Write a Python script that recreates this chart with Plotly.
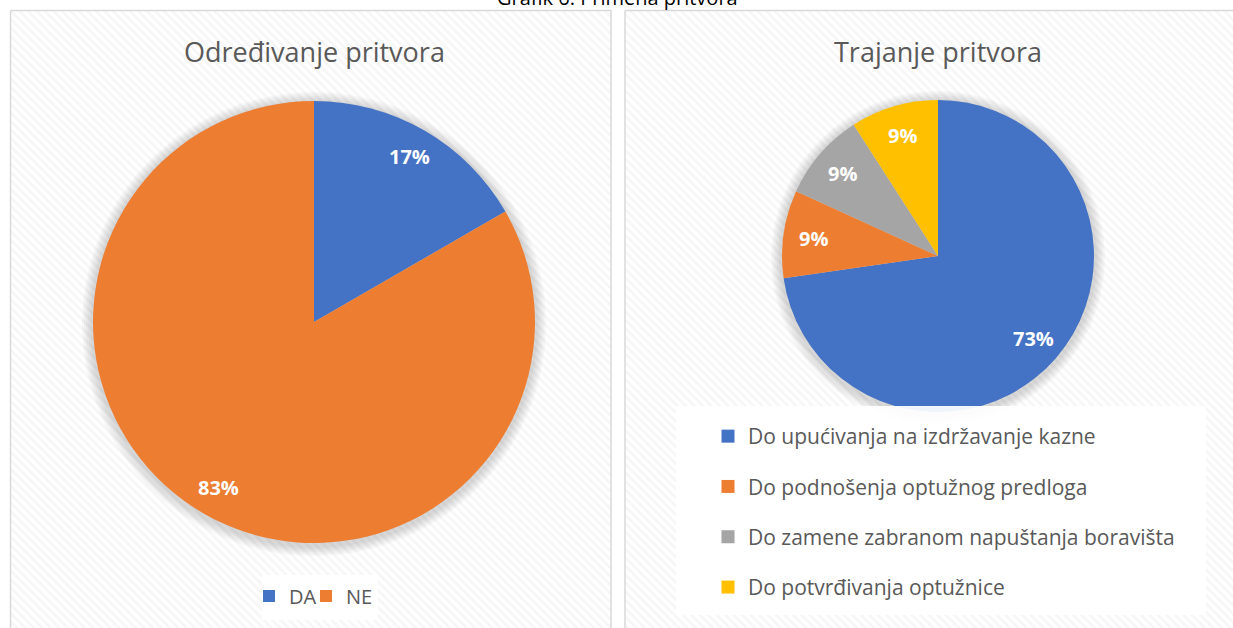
import numpy as np
import plotly.graph_objects as go

# ---- data ----
main_title = "Grafik 6: Primena pritvora"
left_title = "Određivanje pritvora"
left_labels = ["DA", "NE"]
left_values = [2, 10]
right_title = "Trajanje pritvora"
right_labels = [
    "Do upućivanja na izdržavanje kazne",
    "Do podnošenja optužnog predloga",
    "Do zamene zabranom napuštanja boravišta",
    "Do potvrđivanja optužnice",
]
right_values = [8, 1, 1, 1]
colors = ["#4472C4", "#ED7D31", "#A5A5A5", "#FFC000"]

W, H = 1233, 628
FONT = "Open Sans"
TXT = "#595959"

# pie geometry (pixels)
L_CX, L_CY, L_R = 314, 322, 221
R_CX, R_CY, R_R = 938, 256, 156


def dom(cx, cy, r):
    return dict(x=[(cx - r) / W, (cx + r) / W],
                y=[1 - (cy + r) / H, 1 - (cy - r) / H])


def label_annotations(values, cx, cy, r):
    """Percent labels placed near the outer edge at each slice's mid-angle."""
    vals = np.asarray(values, dtype=float)
    tot = vals.sum()
    ends = np.cumsum(vals) / tot * 360.0
    starts = ends - vals / tot * 360.0
    out = []
    rl = r - 30
    for v, a0, a1 in zip(vals, starts, ends):
        mid = np.radians((a0 + a1) / 2)
        out.append(dict(
            text=f"{round(v / tot * 100):.0f}%", xref="x", yref="y",
            x=cx + rl * np.sin(mid), y=cy - rl * np.cos(mid),
            showarrow=False, xanchor="center", yanchor="middle",
            font=dict(family=FONT, size=20, color="white", weight="bold")))
    return out


fig = go.Figure()

# hatched panel backgrounds
for (x0, x1) in [(10.5, 611), (625, 1245)]:
    fig.add_trace(go.Scatter(
        x=[x0, x1, x1, x0, x0], y=[10.5, 10.5, 645, 645, 10.5],
        mode="lines", fill="toself", fillcolor="white",
        fillpattern=dict(shape="\\", fgcolor="#eeeeee", bgcolor="white",
                         size=6, solidity=0.45),
        line=dict(color="#d9d9d9", width=1.5),
        hoverinfo="skip", showlegend=False))

# soft shadows behind pies
th = np.linspace(0, 2 * np.pi, 181)
for cx, cy, r in [(L_CX, L_CY, L_R), (R_CX, R_CY, R_R)]:
    for k in (11, 9, 7, 5, 3):
        fig.add_trace(go.Scatter(
            x=cx + (r + k) * np.cos(th), y=cy + 2 + (r + k) * np.sin(th),
            mode="lines", fill="toself", fillcolor="rgba(0,0,0,0.03)",
            line=dict(width=0), hoverinfo="skip", showlegend=False))

fig.add_trace(go.Pie(
    labels=left_labels, values=left_values, sort=False, direction="clockwise",
    rotation=0, domain=dom(L_CX, L_CY, L_R),
    marker=dict(colors=colors[:2], line=dict(width=0)),
    textinfo="none", showlegend=False))

fig.add_trace(go.Pie(
    labels=right_labels, values=right_values, sort=False, direction="clockwise",
    rotation=0, domain=dom(R_CX, R_CY, R_R),
    marker=dict(colors=colors, line=dict(width=0)),
    textinfo="none", showlegend=False))

# legend entries for the left pie: one small legend per entry (tight spacing)
left_leg_ids = ["legend3", "legend4"]
for i, (lab, c) in enumerate(zip(left_labels, colors)):
    fig.add_trace(go.Scatter(
        x=[None], y=[None], mode="markers", name=lab,
        marker=dict(symbol="square", size=12, color=c),
        legend=left_leg_ids[i], showlegend=True))

# legend entries for right pie (spaced like the original)
for i, (lab, c) in enumerate(zip(right_labels, colors)):
    fig.add_trace(go.Scatter(
        x=[None], y=[None], mode="markers", name=lab,
        marker=dict(symbol="square", size=13, color=c),
        legend="legend2", legendgroup=f"g{i}", showlegend=True))

annotations = [
    dict(text=main_title, x=617 / W, y=1 + 2 / H, xref="paper", yref="paper",
         xanchor="center", yanchor="middle", showarrow=False,
         font=dict(family=FONT, size=20, color="black")),
    dict(text=left_title, x=L_CX / W, y=1 - 51 / H, xref="paper", yref="paper",
         xanchor="center", yanchor="middle", showarrow=False,
         font=dict(family=FONT, size=27, color=TXT)),
    dict(text=right_title, x=R_CX / W, y=1 - 51 / H, xref="paper", yref="paper",
         xanchor="center", yanchor="middle", showarrow=False,
         font=dict(family=FONT, size=27, color=TXT)),
]
annotations += label_annotations(left_values, L_CX, L_CY, L_R)
annotations += label_annotations(right_values, R_CX, R_CY, R_R)

small_leg = dict(orientation="v", xanchor="left", yanchor="middle",
                 y=1 - 596 / H, bgcolor="rgba(0,0,0,0)",
                 font=dict(family=FONT, size=20, color=TXT))

fig.update_layout(
    width=W, height=H, margin=dict(l=0, r=0, t=0, b=0),
    paper_bgcolor="white", plot_bgcolor="rgba(0,0,0,0)",
    xaxis=dict(range=[0, W], visible=False, fixedrange=True),
    yaxis=dict(range=[H, 0], visible=False, fixedrange=True),
    font=dict(family=FONT, color=TXT),
    showlegend=True,
    legend3=dict(small_leg, x=249 / W),
    legend4=dict(small_leg, x=306 / W),
    legend2=dict(orientation="v", x=708 / W, xanchor="left",
                 y=1 - 416 / H, yanchor="top",
                 bgcolor="rgba(0,0,0,0)", tracegroupgap=20,
                 font=dict(family=FONT, size=21, color=TXT)),
    shapes=[
        dict(type="rect", xref="x", yref="y", x0=676, x1=1206,
             y0=406, y1=615, fillcolor="rgba(255,255,255,0.92)",
             line=dict(width=0), layer="above"),
        dict(type="rect", xref="x", yref="y", x0=262, x1=378,
             y0=575, y1=620, fillcolor="rgba(255,255,255,0.9)",
             line=dict(width=0), layer="above"),
    ],
    annotations=annotations,
)

fig.write_html(
    "out.html",
    config={"displayModeBar": False},
    post_script="document.body.style.margin='0';"
                "document.documentElement.style.overflow='hidden';",
)
